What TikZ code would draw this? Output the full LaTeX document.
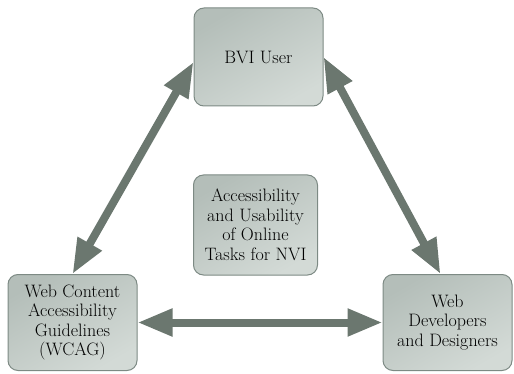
\documentclass[tikz,border=0pt]{standalone}
\usetikzlibrary{arrows.meta}
\definecolor{arrowc}{HTML}{6B776F}
\definecolor{boxdark}{HTML}{B4BEB9}
\definecolor{boxlight}{HTML}{D3DAD6}
\definecolor{boxline}{HTML}{7D8A84}
\tikzset{
  box/.style={draw=boxline, line width=1pt, rounded corners=10pt,
    top color=boxdark, bottom color=boxlight, shading angle=30,
    align=center, inner sep=0pt, font=\fontsize{18}{19.5}\selectfont},
  link/.style={arrowc, line width=8pt,
    {Triangle[length=35pt,width=26pt]}-{Triangle[length=35pt,width=26pt]}}
}
\begin{document}
\begin{tikzpicture}[x=1pt,y=-1pt]
\useasboundingbox (0,0) rectangle (514,374);
\node[box, minimum width=129pt, minimum height=98pt] (bvi) at (258.5,57) {BVI User};
\node[box, minimum width=129pt, minimum height=96pt] (wcag) at (72.5,322.5) {Web Content\\Accessibility\\Guidelines\\(WCAG)};
\node[box, minimum width=129pt, minimum height=96pt] (dev) at (447.5,322.5) {Web\\Developers\\and Designers};
\node[box, minimum width=124pt, minimum height=100pt] (center) at (255.5,225) {Accessibility\\and Usability\\of Online\\Tasks for NVI};
\draw[link] ([yshift=-5pt]bvi.west) -- (wcag.north);
\draw[link] (bvi.east) -- ([xshift=-7pt]dev.north);
\draw[link] (wcag.east) -- (dev.west);
\end{tikzpicture}
\end{document}
